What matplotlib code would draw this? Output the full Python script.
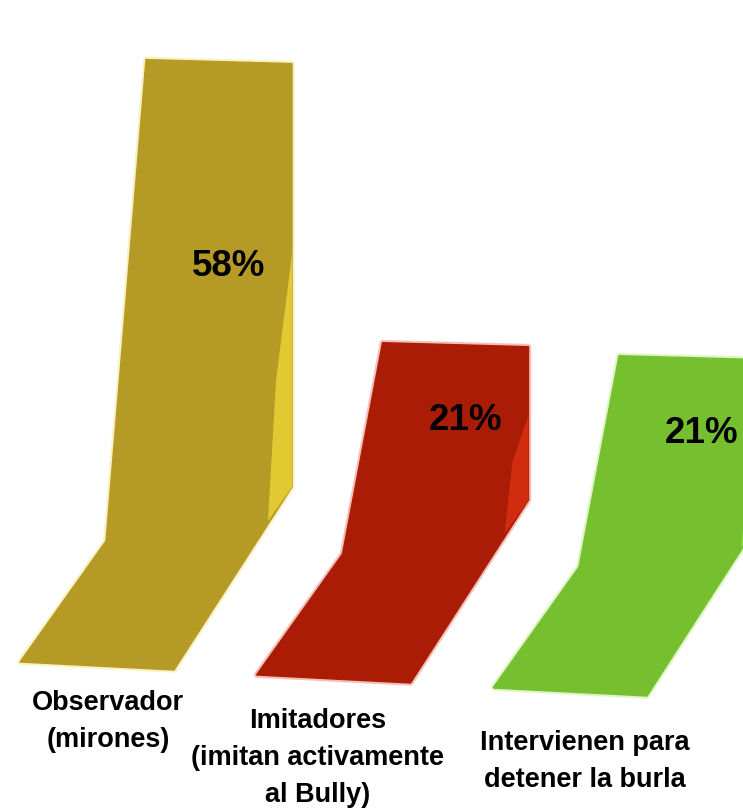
import matplotlib
matplotlib.use("Agg")
import matplotlib.pyplot as plt
from matplotlib.patches import Polygon

# ---------- datos ----------
categories = ["Observador\n(mirones)",
              "Imitadores\n(imitan activamente\nal Bully)",
              "Intervienen para\ndetener la burla"]
values = [58, 21, 21]
value_labels = ["58%", "21%", "21%"]

# ---------- estilo ----------
face_colors = ["#b59a26", "#aa1c06", "#76c030"]
side_colors = ["#ecd234", "#d9300f", "#8fe23e"]
plt.rcParams["font.family"] = ["Liberation Sans", "DejaVu Sans"]

W, H = 743, 808
fig = plt.figure(figsize=(W / 100, H / 100), dpi=100)
ax = fig.add_axes([0, 0, 1, 1])
ax.set_xlim(0, W)
ax.set_ylim(H, 0)
ax.axis("off")

# geometría de las "barras" en perspectiva (suelo + pared)
PX_PER_PCT = 7.3
X0, Y0 = 20, 662          # esquina frontal izquierda de la primera barra
STEP_X, STEP_Y = 236.5, 13
FRONT = (154, 8)          # borde frontal del suelo
BACK_R = (272, -175)      # esquina trasera derecha (pie de la pared)
BACK_L = (86, -121)       # esquina trasera izquierda
WALL_W, WALL_TILT = 146, 4
label_dx = [88, 61, 92]
label_dy = [28, 33, 42]

for i, (cat, v, vl) in enumerate(zip(categories, values, value_labels)):
    x0 = X0 + STEP_X * i
    y0 = Y0 + STEP_Y * i
    h = v * PX_PER_PCT
    bl = (x0, y0)
    br = (x0 + FRONT[0], y0 + FRONT[1])
    rb = (x0 + BACK_R[0], y0 + BACK_R[1])
    tr = (rb[0], rb[1] - h)
    tl = (tr[0] - WALL_W, tr[1] - WALL_TILT)
    lb = (x0 + BACK_L[0], y0 + BACK_L[1])

    # halo suave
    ax.add_patch(Polygon([bl, br, rb, tr, tl, lb], closed=True,
                         fc="none", ec=side_colors[i], lw=4, alpha=0.3,
                         joinstyle="round"))
    ax.add_patch(Polygon([bl, br, rb, tr, tl, lb], closed=True,
                         fc=face_colors[i], ec=face_colors[i], lw=1))
    # cara lateral más clara
    side = [(rb[0], tr[1] + 0.45 * h), (rb[0], rb[1]),
            (rb[0] - 24, rb[1] + 34), (rb[0] - 16, rb[1] - 0.25 * h)]
    ax.add_patch(Polygon(side, closed=True, fc=side_colors[i], ec="none",
                         alpha=0.85))

    ax.text(tr[0] - 63, tr[1] + 0.48 * h, vl, ha="center", va="center",
            fontsize=26.5, fontweight="bold", color="black")
    ax.text(x0 + label_dx[i], y0 + label_dy[i], cat, ha="center", va="top",
            fontsize=19.5, fontweight="bold", color="black", linespacing=1.56)

fig.savefig("out.png", dpi=100, facecolor="white")
